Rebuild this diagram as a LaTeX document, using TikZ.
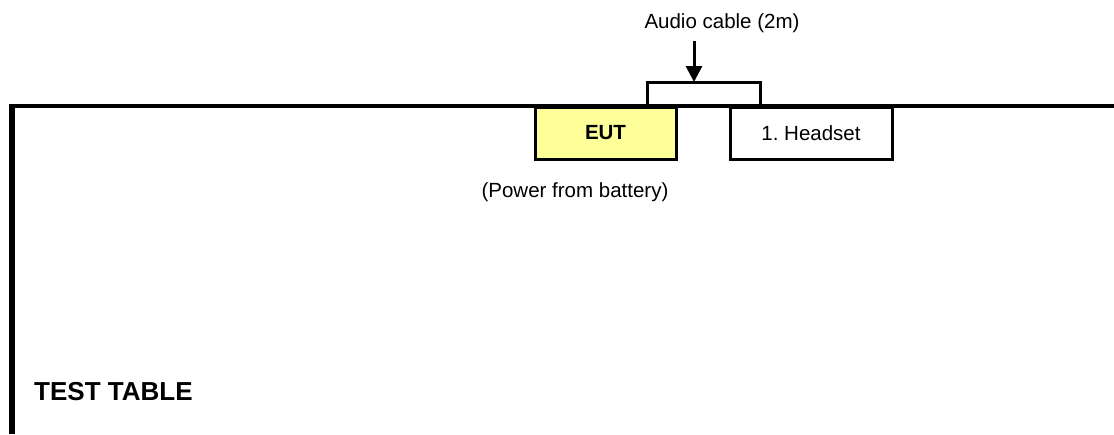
\documentclass[tikz,border=0pt]{standalone}
\usepackage{fontspec}
\setmainfont{Liberation Sans}
\frenchspacing
\usetikzlibrary{arrows.meta}
\definecolor{eutyellow}{HTML}{FFFF99}
\tikzset{
  x=1pt, y=-1pt,
  devbox/.style={draw, line width=3pt, minimum height=52pt, inner sep=0pt, font=\fontsize{20.5}{24}\selectfont},
  lbl/.style={font=\fontsize{20.5}{24}\selectfont, inner sep=0pt},
  tableline/.style={line width=4.5pt},
  cableline/.style={line width=3pt},
  arrowline/.style={line width=3pt, -{Triangle[width=16pt,length=16pt]}}
}
\begin{document}
\begin{tikzpicture}
\useasboundingbox (0,0) rectangle (1114,434);
% test table
\coordinate (tblL) at (12,434);
\coordinate (tblC) at (12,106);
\coordinate (tblR) at (1114,106);
\draw[line width=6pt] (tblL) -- ([yshift=-2pt]tblC);
% boxes
\node[devbox, fill=eutyellow, minimum width=141pt, font=\fontsize{20.5}{24}\selectfont\bfseries] (eut) at (605.5,133) {EUT};
\node[devbox, fill=white, minimum width=162pt] (hs) at (811,133) {\frenchspacing 1. Headset};
% cable
\coordinate (cabL) at (647,106);
\coordinate (cabR) at (760,106);
\coordinate (cabT) at (694,82);
\draw[cableline] (cabL) |- (cabT) -| (cabR);
\coordinate (arrS) at (694,41);
\draw[arrowline] (arrS) -- (cabT);
% labels
\node[lbl] (cable) at (722,23) {Audio cable (2m)};
\node[lbl] (power) at (575,192) {(Power from battery)};
\node[lbl, anchor=west, font=\fontsize{26}{30}\selectfont\bfseries] (tt) at (34,392) {TEST TABLE};
% table top over box tops
\draw[tableline] ([xshift=-3pt]tblC) -- (tblR);
\end{tikzpicture}
\end{document}
